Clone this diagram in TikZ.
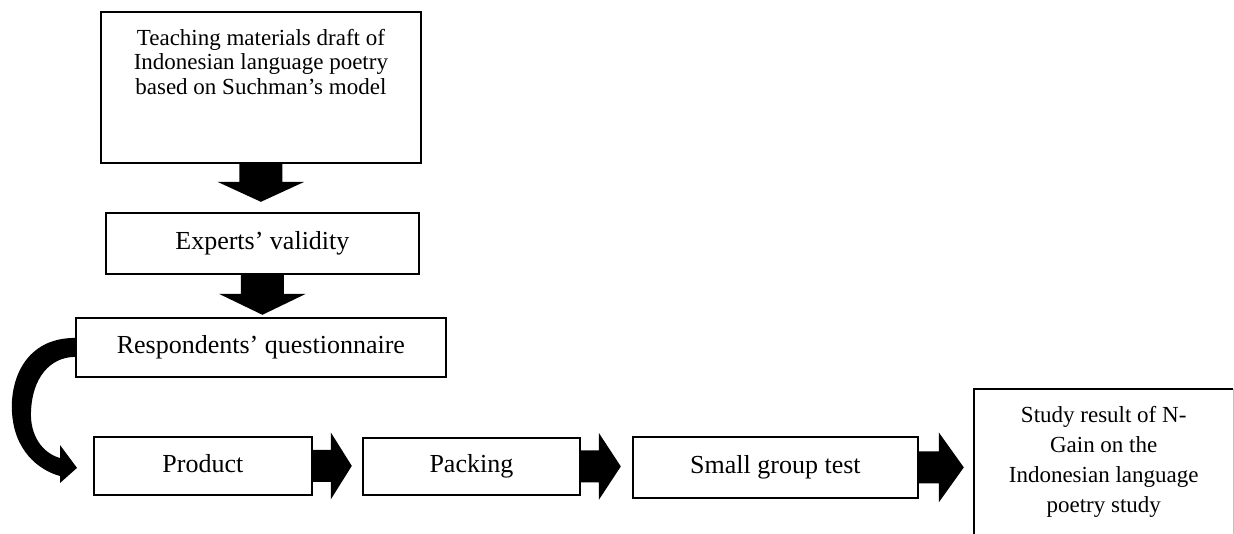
\documentclass[tikz,border=0pt]{standalone}
\usepackage{fontspec}
\setmainfont{Liberation Serif}
\usetikzlibrary{calc}
\newcommand{\myvarrow}[3]{%
  \fill let \p1=(#1) in (\x1-21.5pt,\y1) -- (\x1+21.5pt,\y1) -- (\x1+21.5pt,\y1-#2) -- (\x1+43.5pt,\y1-#2) -- (\x1,\y1-#2-#3) -- (\x1-43.5pt,\y1-#2) -- (\x1-21.5pt,\y1-#2) -- cycle;}
\newcommand{\myharrow}[5]{%
  \fill let \p1=(#1) in (\x1,\y1+#4) -- (\x1+#2,\y1+#4) -- (\x1+#2,\y1+#5) -- (\x1+#2+#3,\y1) -- (\x1+#2,\y1-#5) -- (\x1+#2,\y1-#4) -- (\x1,\y1-#4) -- cycle;}
\begin{document}
\begin{tikzpicture}[x=1pt,y=-1pt,
  box/.style={draw, line width=1.8pt, rectangle, inner sep=0pt, align=center,
    font=\fontsize{26}{30}\selectfont, anchor=north west},
  oneline/.style={box, text height=18.5pt, text depth=6pt},
  smallbox/.style={box, font=\fontsize{23}{24}\selectfont}]
\useasboundingbox (0,0) rectangle (1234,533);
\clip (0,0) rectangle (1234,533);
\fill[white] (0,0) rectangle (1234,533);

\node[smallbox, minimum width=320, minimum height=151] (b1) at (100,11)
  {Teaching materials draft of\\Indonesian language poetry\\based on Suchman’s model\\[27pt]\mbox{}};
\node[oneline, minimum width=313, minimum height=61] (b2) at (105,212) {Experts’ validity};
\node[oneline, minimum width=370, minimum height=59] (b3) at (75,317) {Respondents’ questionnaire};
\node[oneline, minimum width=218, minimum height=58] (p) at (93,436) {Product};
\node[oneline, minimum width=217, minimum height=57] (k) at (362,437) {Packing};
\node[oneline, minimum width=285, minimum height=61] (g) at (632,436) {Small group test};
\node[anchor=north west, minimum width=259, align=center, inner xsep=0pt, inner ysep=17pt,
  font=\fontsize{23}{30}\selectfont] (s) at (974,389)
  {Study result of N-\\Gain on the\\Indonesian language\\poetry study};
\draw[line width=1.8pt] ($(s.north west)+(0,160)$) -- (s.north west) -- (s.north east);
\draw[gray!50, line width=0.6pt] (s.north east) -- ++(0,160);

\myvarrow{b1.south}{18pt}{20pt}
\myvarrow{b2.south}{19pt}{21pt}

\myharrow{p.east}{18pt}{21pt}{16pt}{33.5pt}
\myharrow{k.east}{18pt}{22pt}{16pt}{33.5pt}
\myharrow{g.east}{20pt}{25pt}{16pt}{35pt}

\fill ($(b3.west)+(0,-9.5)$) .. controls (25,338) and (10,380) .. (12,412)
  .. controls (14,450) and (38,470) .. (60,476) -- (60,483) -- ($(p.west)+(-16,2)$)
  -- (60,445) -- (60,458) .. controls (42,453) and (30,435) .. (31,412)
  .. controls (32,378) and (50,357) .. ($(b3.west)+(0,9.5)$) -- cycle;
\end{tikzpicture}
\end{document}
